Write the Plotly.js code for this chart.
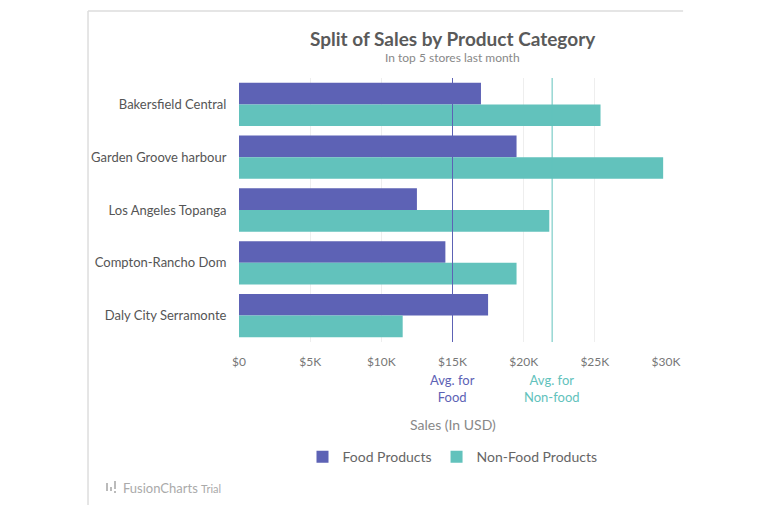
<!DOCTYPE html>
<html>
<head>
<meta charset="utf-8">
<script src="https://cdn.plot.ly/plotly-3.0.1.min.js"></script>
<style>
  html, body { margin: 0; padding: 0; background: #ffffff; }
  #chart { width: 768px; height: 505px; }
</style>
</head>
<body>
<div id="chart"></div>
<script>
// store names and sales per category (USD)
const stores = ['Bakersfield Central', 'Garden Groove harbour', 'Los Angeles Topanga', 'Compton-Rancho Dom', 'Daly City Serramonte'];
const foodSales = [17000, 19500, 12500, 14500, 17500];
const nonFoodSales = [25400, 29800, 21800, 19500, 11500];

// trend lines
const avgFood = 15000;
const avgNonFood = 22000;

const tickVals = [0, 5000, 10000, 15000, 20000, 25000, 30000];
const tickText = ['$0', '$5K', '$10K', '$15K', '$20K', '$25K', '$30K'];

const purple = '#5d62b5';
const teal = '#62c2bc';
const font = 'Lato, "Open Sans", sans-serif';

let data = [
    {
        type: 'bar',
        orientation: 'h',
        name: 'Food Products',
        y: stores,
        x: foodSales,
        marker: {color: purple},
        hovertemplate: '%{y}, %{x}<extra></extra>'
    },
    {
        type: 'bar',
        orientation: 'h',
        name: 'Non-Food Products',
        y: stores,
        x: nonFoodSales,
        marker: {color: teal},
        hovertemplate: '%{y}, %{x}<extra></extra>'
    }
];

let layout = {
    width: 768,
    height: 505,
    margin: {l: 239, r: 102, t: 78, b: 163},
    paper_bgcolor: '#ffffff',
    plot_bgcolor: '#ffffff',
    font: {family: font, color: '#666'},
    barmode: 'group',
    bargap: 0.18,
    bargroupgap: 0,
    showlegend: true,
    legend: {
        orientation: 'h',
        x: 0.5, xanchor: 'center',
        y: -0.436, yanchor: 'middle',
        itemwidth: 30,
        font: {size: 14, color: '#666'},
        itemclick: false
    },
    xaxis: {
        range: [0, 30000],
        tickvals: tickVals,
        ticktext: tickText,
        showgrid: true,
        gridcolor: '#eeeeee',
        zeroline: false,
        showline: false,
        ticks: 'outside',
        ticklen: 9,
        tickcolor: 'rgba(0,0,0,0)',
        tickfont: {size: 12, color: '#777'},
        fixedrange: true
    },
    yaxis: {
        autorange: 'reversed',
        showgrid: false,
        zeroline: false,
        showline: false,
        ticks: 'outside',
        ticklen: 9,
        tickcolor: 'rgba(0,0,0,0)',
        tickfont: {size: 13, color: '#555'},
        fixedrange: true
    },
    shapes: [
        // trend lines
        {type: 'line', xref: 'x', yref: 'paper', x0: avgFood, x1: avgFood, y0: 0, y1: 1,
         line: {color: purple, width: 1}},
        {type: 'line', xref: 'x', yref: 'paper', x0: avgNonFood, x1: avgNonFood, y0: 0, y1: 1,
         line: {color: teal, width: 1}},
        // card border
        {type: 'line', xref: 'paper', yref: 'paper', x0: -0.3536, x1: 1.04, y0: 1.2538, y1: 1.2538,
         line: {color: '#dddddd', width: 1.5}},
        {type: 'line', xref: 'paper', yref: 'paper', x0: -0.3536, x1: -0.3536, y0: 1.2538, y1: -0.62,
         line: {color: '#dddddd', width: 1.5}},
        // watermark icon
        {type: 'rect', xref: 'paper', yref: 'paper', xsizemode: 'pixel', ysizemode: 'pixel',
         xanchor: 0, yanchor: 0, x0: -133, x1: -131, y0: -149, y1: -141,
         fillcolor: '#bbbbbb', line: {width: 0}},
        {type: 'rect', xref: 'paper', yref: 'paper', xsizemode: 'pixel', ysizemode: 'pixel',
         xanchor: 0, yanchor: 0, x0: -129, x1: -127, y0: -149, y1: -145,
         fillcolor: '#bbbbbb', line: {width: 0}},
        {type: 'rect', xref: 'paper', yref: 'paper', xsizemode: 'pixel', ysizemode: 'pixel',
         xanchor: 0, yanchor: 0, x0: -125, x1: -123, y0: -147, y1: -139,
         fillcolor: '#bbbbbb', line: {width: 0}},
        {type: 'rect', xref: 'paper', yref: 'paper', xsizemode: 'pixel', ysizemode: 'pixel',
         xanchor: 0, yanchor: 0, x0: -125, x1: -123, y0: -151, y1: -149,
         fillcolor: '#bbbbbb', line: {width: 0}}
    ],
    annotations: [
        {text: '<b>Split of Sales by Product Category</b>', xref: 'paper', yref: 'paper',
         x: 0.5, y: 1, yshift: 40, yanchor: 'middle', showarrow: false,
         font: {size: 19, color: '#5a5a5a'}},
        {text: 'In top 5 stores last month', xref: 'paper', yref: 'paper',
         x: 0.5, y: 1, yshift: 21, yanchor: 'middle', showarrow: false,
         font: {size: 12, color: '#888'}},
        {text: 'Avg. for<br>Food', xref: 'x', yref: 'paper', x: avgFood, y: 0, yshift: -28,
         yanchor: 'top', showarrow: false, align: 'center',
         font: {size: 13, color: purple}},
        {text: 'Avg. for<br>Non-food', xref: 'x', yref: 'paper', x: avgNonFood, y: 0, yshift: -28,
         yanchor: 'top', showarrow: false, align: 'center',
         font: {size: 13, color: teal}},
        {text: 'Sales (In USD)', xref: 'paper', yref: 'paper', x: 0.5, y: 0, yshift: -82,
         yanchor: 'middle', showarrow: false,
         font: {size: 14, color: '#888'}},
        {text: 'FusionCharts <span style="font-size:11px">Trial</span>', xref: 'paper', yref: 'paper',
         x: 0, xshift: -118, xanchor: 'left', y: 0, yshift: -146, yanchor: 'middle', showarrow: false,
         font: {size: 13, color: '#aaaaaa'}}
    ]
};

Plotly.newPlot('chart', data, layout, {displayModeBar: false, staticPlot: false});
</script>
</body>
</html>
